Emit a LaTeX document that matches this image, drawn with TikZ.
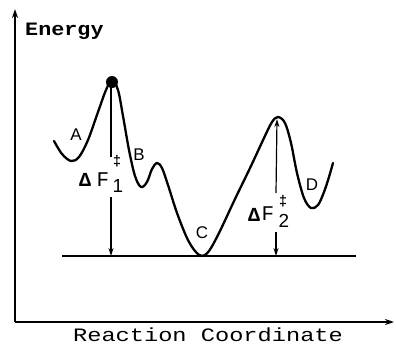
\documentclass[tikz,border=0pt]{standalone}
\usepackage{fontspec}
\setmainfont{Liberation Sans}
\newfontfamily\tw{Liberation Mono}
\usetikzlibrary{arrows.meta}
\begin{document}
\begin{tikzpicture}[x=1bp,y=-1bp,
  axis/.style={line width=1.8bp,-{Stealth[length=9bp,width=6bp]}},
  curve/.style={line width=2.3bp,line join=round,line cap=round},
  dim/.style={line width=1.2bp,-{Stealth[length=8bp,width=5bp]}},
  lab/.style={font=\fontsize{17}{17}\selectfont,inner sep=0pt},
  twlab/.style={font=\tw\fontsize{19}{19}\selectfont,inner sep=0pt},
  dlt/.style={font=\tw\bfseries\fontsize{20}{20}\selectfont,inner sep=0pt},
  fF/.style={font=\tw\fontsize{21}{21}\selectfont,inner sep=0pt},
  dag/.style={font=\tw\bfseries\fontsize{14}{14}\selectfont,inner sep=0pt},
  sub/.style={font=\fontsize{19}{19}\selectfont,inner sep=0pt}]
\useasboundingbox (0,0) rectangle (396,344);
% axes
\coordinate (O) at (15,322);
\coordinate (ytop) at (15,9);
\coordinate (xend) at (394,322);
\draw[axis] (O) -- (ytop);
\draw[axis] (O) -- (xend);
\node[twlab,font=\tw\bfseries\fontsize{19}{19}\selectfont,anchor=base west] (energy) at (25,35) {\scalebox{1.15}[1]{Energy}};
\node[twlab,anchor=base] (rc) at (208,341) {\scalebox{1.25}[1]{Reaction Coordinate}};
% baseline
\coordinate (bl) at (62,256);
\coordinate (br) at (356,256);
\draw[line width=1.4bp] (bl) -- (br);
% energy curve
\draw[curve] plot[smooth,tension=0.55] coordinates {
(54,141) (62,154) (71,161) (79,157) (88,140) (98,112) (106,90) (112,80) (118,90) (123,116)
(129,150) (135,176) (141,187) (147,182) (152,169) (157,163) (162,168) (168,185)
(177,213) (187,238) (195,251) (202,256) (209,251) (219,233) (235,199) (251,166)
(264,138) (272,122) (278,117) (285,123) (291,143) (297,173) (304,198) (311,208)
(318,205) (324,192) (329,177) (333,163)};
\fill (112,82) circle (6bp);
\coordinate (p1) at (111,86);
\coordinate (p2) at (277,119);
% labels
\node[lab] (A) at (76,135) {A};
\node[lab] (B) at (139,155) {B};
\node[lab] (C) at (202,233) {C};
\node[lab] (D) at (312,185) {D};
% Delta F1
\node[dlt] (d1) at (85,180) {Δ};
\node[fF] (F1) at (103,180) {F};
\node[dag] (g1) at (117,161) {‡};
\node[sub] (s1) at (118,186) {1};
\coordinate (a1top) at (111,157);
\coordinate (a1bot) at (111,197);
\coordinate (a1end) at (111,256);
\draw[line width=1.2bp] (p1) -- (a1top);
\draw[dim] (a1bot) -- (a1end);
% Delta F2
\node[dlt] (d2) at (254,215) {Δ};
\node[fF] (F2) at (268,214) {F};
\node[dag] (g2) at (283,201) {‡};
\node[sub] (s2) at (284,221) {2};
\coordinate (a2top) at (276,193);
\coordinate (a2bot) at (276,232);
\coordinate (a2end) at (276,256);
\draw[dim] (a2top) -- (p2);
\draw[dim] (a2bot) -- (a2end);
\end{tikzpicture}
\end{document}
